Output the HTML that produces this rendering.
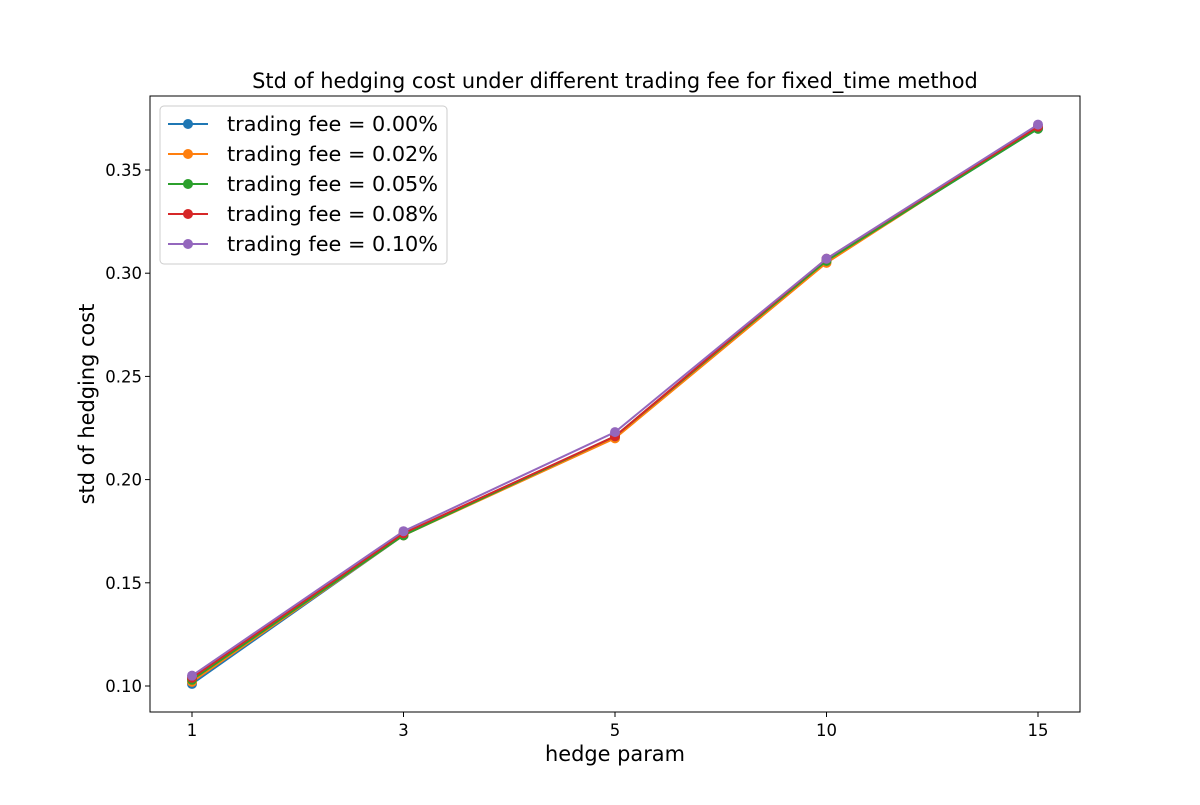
<!DOCTYPE html>
<html><head><meta charset="utf-8"><style>
body{margin:0;background:#fff;font-family:"Liberation Sans","DejaVu Sans",sans-serif}
svg text{font-family:"DejaVu Sans","Liberation Sans",sans-serif}
</style></head><body>
<svg id="chart" width="1200" height="800" xmlns="http://www.w3.org/2000/svg">
<rect width="1200" height="800" fill="#fff"/>
<g id="plot"></g>
</svg>
<script>
const categories=["1","3","5","10","15"];
const fee000=[0.101,0.173,0.221,0.306,0.370];
const fee002=[0.102,0.173,0.220,0.305,0.371];
const fee005=[0.103,0.173,0.221,0.306,0.370];
const fee008=[0.104,0.174,0.221,0.307,0.371];
const fee010=[0.105,0.175,0.223,0.307,0.372];
const seriesLabels=["trading fee = 0.00%","trading fee = 0.02%","trading fee = 0.05%","trading fee = 0.08%","trading fee = 0.10%"];
const yTicks=[0.10,0.15,0.20,0.25,0.30,0.35];
const colors=["#1f77b4","#ff7f0e","#2ca02c","#d62728","#9467bd"];
const series=[fee000,fee002,fee005,fee008,fee010];
const NS="http://www.w3.org/2000/svg";
const L=150,R=1080,T=96,B=712;
const xs=i=>192+i*(1038-192)/(categories.length-1);
const ys=v=>686-(v-0.10)*(686-170)/0.25;
const g=document.getElementById('plot');
function mk(t,a,p){const e=document.createElementNS(NS,t);for(const k in a)e.setAttribute(k,a[k]);(p||g).appendChild(e);return e;}
series.forEach((s,si)=>{
 const grp=mk('g',{});
 
 
 mk('polyline',{points:s.map((v,i)=>xs(i)+','+ys(v)).join(' '),fill:'none',stroke:colors[si],'stroke-width':2},grp);
 s.forEach((v,i)=>{const c=mk('circle',{cx:xs(i),cy:ys(v),r:5,fill:colors[si]},grp);
  
  });
});
const fr=mk('rect',{x:L,y:T,width:R-L,height:B-T,fill:'none',stroke:'#000','stroke-width':1});


categories.forEach((c,i)=>{
 mk('line',{x1:xs(i),x2:xs(i),y1:B,y2:B+5,stroke:'#000'});
 const t=mk('text',{x:xs(i),y:B+24,'text-anchor':'middle','font-size':16.5});t.textContent=c;
 
 
});
yTicks.forEach(v=>{
 mk('line',{x1:L-5,x2:L,y1:ys(v),y2:ys(v),stroke:'#000'});
 const t=mk('text',{x:L-8,y:ys(v)+6,'text-anchor':'end','font-size':16.5});t.textContent=v.toFixed(2);
 
 
});
let t=mk('text',{x:615,y:88,'text-anchor':'middle','font-size':20.9});t.textContent="Std of hedging cost under different trading fee for fixed_time method";


t=mk('text',{x:615,y:761,'text-anchor':'middle','font-size':20.9});t.textContent="hedge param";


t=mk('text',{x:0,y:0,'text-anchor':'middle','font-size':20.9,transform:'translate(94,404) rotate(-90)'});t.textContent="std of hedging cost";


const lg=mk('g',{});


mk('rect',{x:160,y:106,width:287,height:158,rx:4,fill:'#fff','fill-opacity':0.8,stroke:'#ccc'},lg);
seriesLabels.forEach((s,i)=>{
 const y=124+i*30;
 const e=mk('g',{},lg);
 
 
 mk('line',{x1:168,x2:208,y1:y,y2:y,stroke:colors[i],'stroke-width':2},e);
 mk('circle',{cx:188,cy:y,r:5,fill:colors[i]},e);
 const tt=mk('text',{x:227,y:y+7,'font-size':20.8},e);tt.textContent=s;
});
</script>
</body></html>
